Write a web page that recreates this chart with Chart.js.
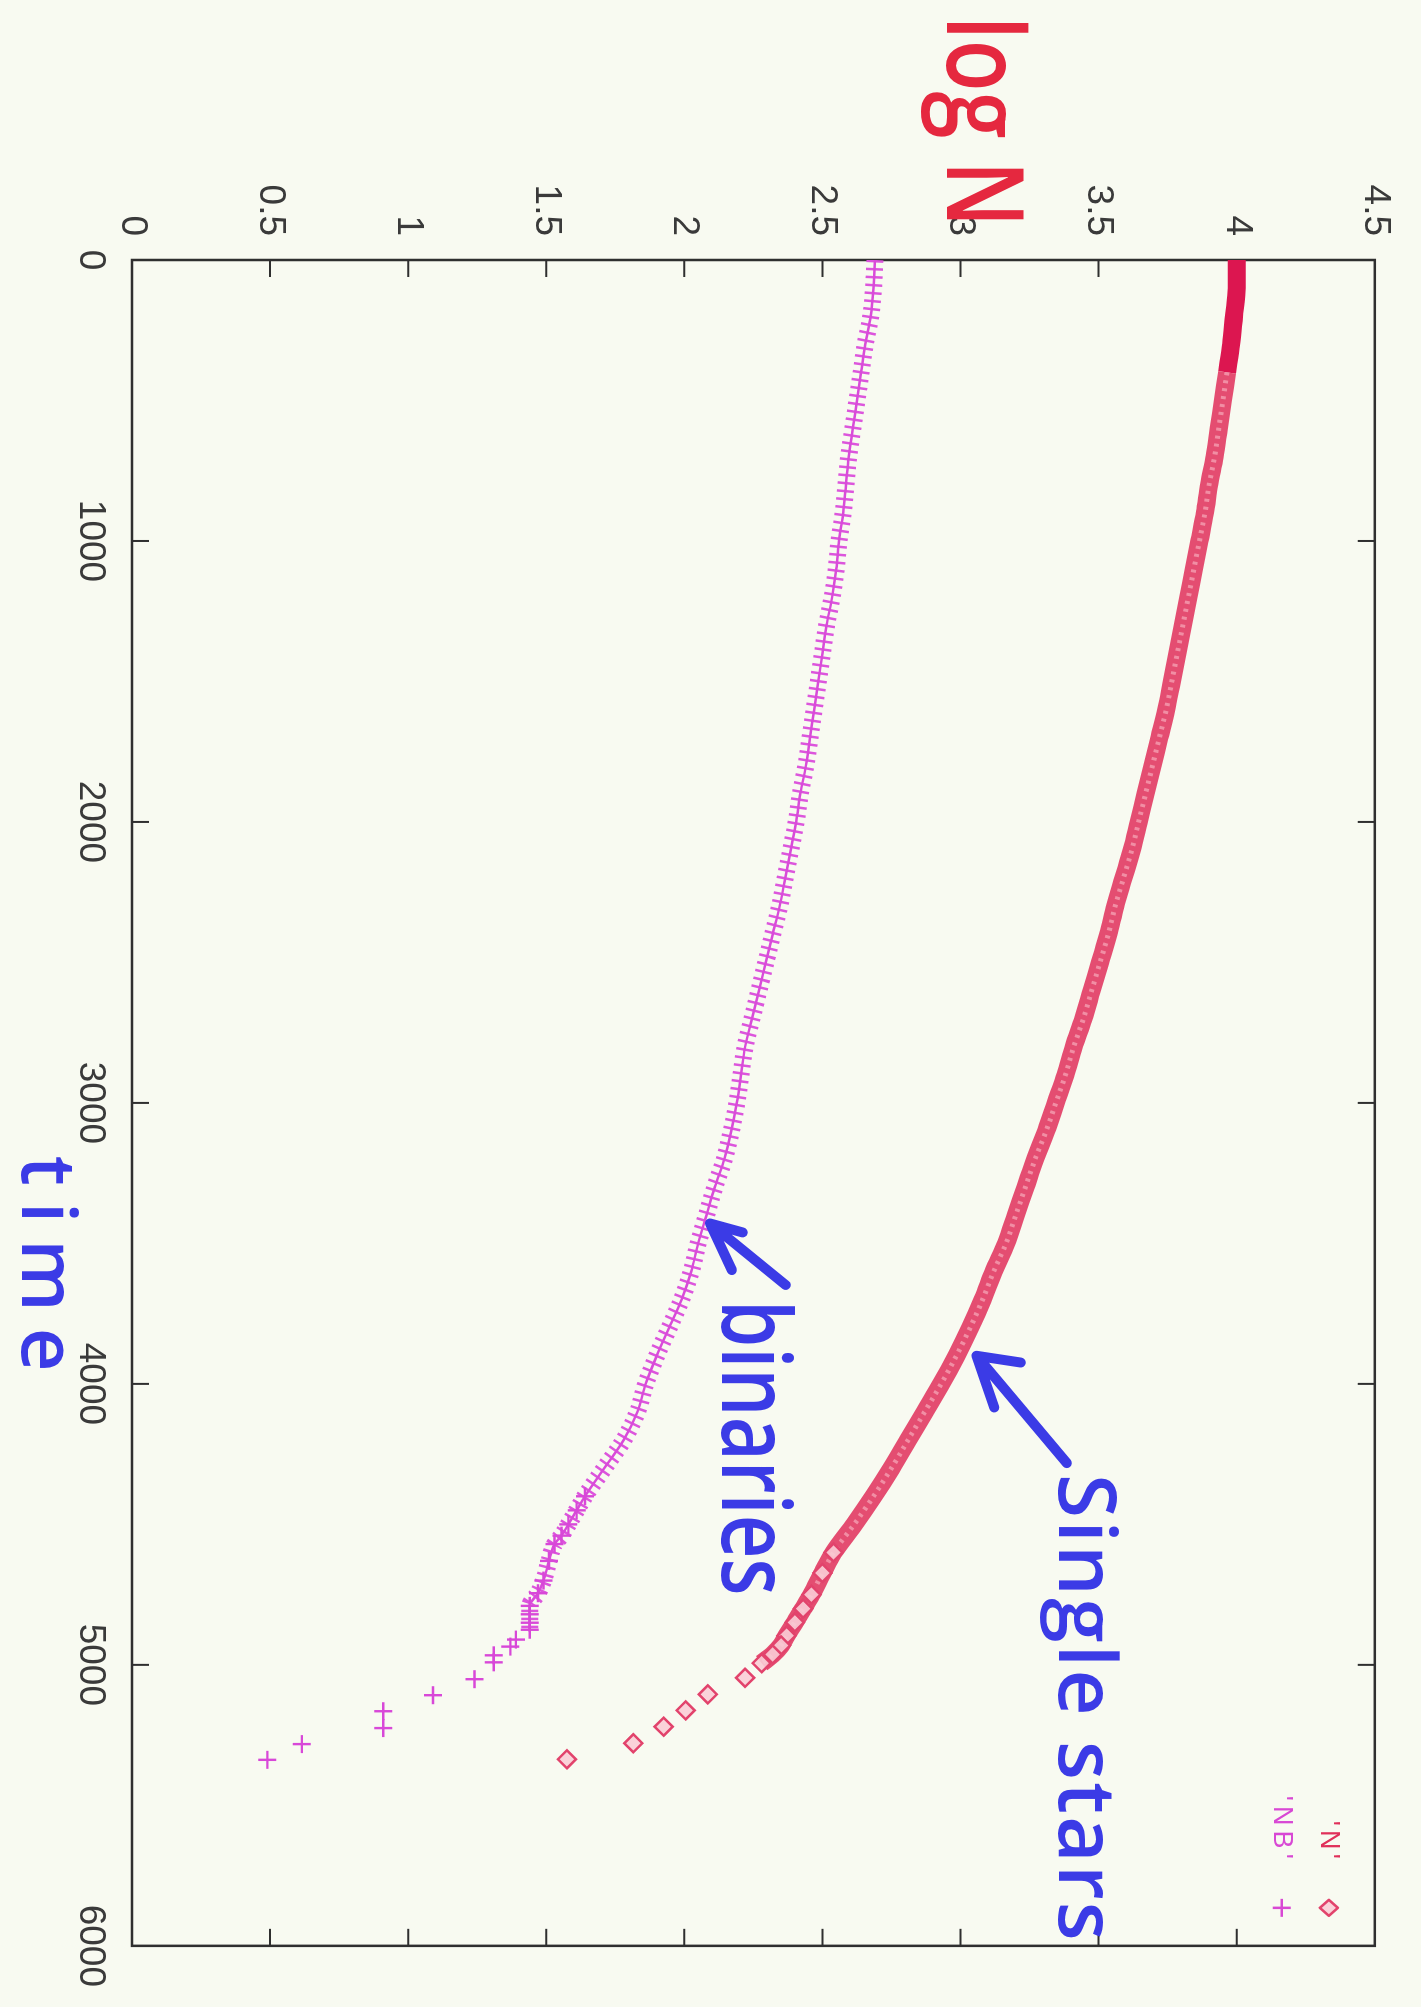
<!DOCTYPE html>
<html lang="en">
<head>
<meta charset="UTF-8">
<title>log N against time</title>
<script src="https://cdn.jsdelivr.net/npm/chart.js"></script>
<style>
  html, body { margin: 0; padding: 0; background: #f8faf1; overflow: hidden; }
  /* the scanned plot is turned a quarter turn clockwise on the page */
  #wrap { position: absolute; left: 0; top: 0; width: 2007px; height: 1421px;
          transform-origin: 0 0; transform: translate(1421px, 0) rotate(90deg); }
</style>
</head>
<body>
<div id="wrap"><canvas id="nChart" width="2007" height="1421"></canvas></div>
<script>
// single stars ('N'): time, log N
var timeN = [0,100,200,300,400,500,600,700,800,900,1000,1100,1200,1300,1400,1500,1600,1700,1800,1900,
             2000,2100,2200,2300,2400,2500,2600,2700,2800,2900,3000,3100,3200,3300,3400,3500,3600,3700,3800,3900,
             4000,4100,4200,4300,4400,4500,4600,4673,4750,4800,4849,4896,4931,4963,4994,
             5046,5105,5162,5220,5279,5336];
var logN = [4.00,4.00,3.99,3.98,3.965,3.95,3.935,3.92,3.90,3.885,3.865,3.845,3.825,3.805,3.785,3.765,3.745,3.72,3.695,3.67,
            3.645,3.62,3.59,3.56,3.535,3.505,3.475,3.445,3.41,3.38,3.345,3.31,3.27,3.235,3.20,3.165,3.12,3.08,3.035,2.985,
            2.93,2.87,2.81,2.75,2.685,2.615,2.54,2.50,2.46,2.43,2.40,2.37,2.35,2.32,2.28,
            2.22,2.085,2.005,1.925,1.815,1.575];

// binaries ('NB'): time, log N
var timeNB = [0,100,200,300,400,500,600,700,800,900,1000,1100,1200,1300,1400,1500,1600,1700,1800,1900,
              2000,2100,2200,2300,2400,2500,2600,2700,2800,2900,3000,3100,3200,3300,3400,3500,3600,3700,3800,3900,
              4000,4100,4200,4300,4400,4450,4500,4540,4570,4630,4700,4745,4790,4820,4850,4875,
              4910,4935,4966,4991,5051,5108,5165,5225,5282,5338];
var logNB = [2.69,2.685,2.675,2.655,2.64,2.625,2.61,2.595,2.585,2.575,2.56,2.55,2.535,2.515,2.50,2.485,2.47,2.455,2.44,2.42,
             2.405,2.385,2.365,2.345,2.32,2.295,2.27,2.245,2.22,2.205,2.19,2.17,2.145,2.11,2.08,2.05,2.025,1.99,1.945,1.90,
             1.86,1.83,1.78,1.71,1.64,1.61,1.58,1.555,1.53,1.51,1.49,1.47,1.44,1.44,1.44,1.44,
             1.39,1.37,1.31,1.31,1.24,1.09,0.91,0.91,0.615,0.49];

var timeTicks = [0,1000,2000,3000,4000,5000,6000];
var logTicks = [0,0.5,1,1.5,2,2.5,3,3.5,4,4.5];

// hand-written notes on the print (placed in data units)
var notes = [
  {text: 'log N',        t0: -868, t1: -117, base: 2.95,  size: 106, color: '#e5283f'},
  {text: 'time',         t0: 3188, t1: 3956, base: -0.40, size: 76,  color: '#3b3be6'},
  {text: 'binaries',     t0: 3701, t1: 4753, base: 2.136, size: 96,  color: '#3b3be6'},
  {text: 'Single stars', t0: 4321, t1: 5982, base: 3.357, size: 80,  color: '#3b3be6'}
];
var arrows = [
  {tip: [3429, 2.093], tail: [3648, 2.367], heads: [[3461, 2.211], [3595, 2.172]]},
  {tip: [3900, 3.058], tail: [4282, 3.385], heads: [[3924, 3.218], [4084, 3.122]]}
];

function pts(ts, ys, from, to) {
  var out = [];
  for (var i = 0; i < ts.length; i++) {
    if (ts[i] >= from && ts[i] <= to) out.push({x: ts[i], y: ys[i]});
  }
  return out;
}

// text stretched or squeezed to the width it has on the paper
function fitText(ctx, text, x, y, width, font) {
  ctx.font = font;
  var w = ctx.measureText(text).width;
  if (w >= width) {
    ctx.save();
    ctx.translate(x, y);
    ctx.scale(width / w, 1);
    ctx.fillText(text, 0, 0);
    ctx.restore();
    return;
  }
  var gap = (width - w) / (text.length - 1), cx = x;
  for (var i = 0; i < text.length; i++) {
    ctx.fillText(text[i], cx, y);
    cx += ctx.measureText(text[i]).width + gap;
  }
}

var framePlugin = {
  id: 'frame',
  beforeDatasetsDraw: function(chart) {
    var a = chart.chartArea, ctx = chart.ctx, xs = chart.scales.x, ys = chart.scales.y;
    ctx.save();
    ctx.strokeStyle = '#2f2f2f';
    ctx.lineWidth = 2.5;
    ctx.strokeRect(a.left, a.top, a.right - a.left, a.bottom - a.top);
    ctx.lineWidth = 2;
    ctx.beginPath();
    timeTicks.slice(1, -1).forEach(function(v) {
      var p = xs.getPixelForValue(v);
      ctx.moveTo(p, a.bottom); ctx.lineTo(p, a.bottom - 17);
      ctx.moveTo(p, a.top); ctx.lineTo(p, a.top + 17);
    });
    logTicks.slice(1, -1).forEach(function(v) {
      var p = ys.getPixelForValue(v);
      ctx.moveTo(a.left, p); ctx.lineTo(a.left + 17, p);
      ctx.moveTo(a.right, p); ctx.lineTo(a.right - 17, p);
    });
    ctx.stroke();
    ctx.restore();
  }
};

var notesPlugin = {
  id: 'notes',
  afterDraw: function(chart) {
    var ctx = chart.ctx, xs = chart.scales.x, ys = chart.scales.y, a = chart.chartArea;
    ctx.save();
    ctx.textBaseline = 'alphabetic';
    notes.forEach(function(n) {
      ctx.fillStyle = n.color;
      var x0 = xs.getPixelForValue(n.t0), x1 = xs.getPixelForValue(n.t1);
      fitText(ctx, n.text, x0, ys.getPixelForValue(n.base), x1 - x0, '600 ' + n.size + 'px "Open Sans"');
    });
    ctx.strokeStyle = '#3b3be6';
    ctx.lineWidth = 10;
    ctx.lineCap = 'round';
    ctx.lineJoin = 'round';
    arrows.forEach(function(ar) {
      var tx = xs.getPixelForValue(ar.tip[0]), ty = ys.getPixelForValue(ar.tip[1]);
      ctx.beginPath();
      ctx.moveTo(xs.getPixelForValue(ar.tail[0]), ys.getPixelForValue(ar.tail[1]));
      ctx.lineTo(tx, ty);
      ar.heads.forEach(function(h) {
        ctx.moveTo(tx, ty);
        ctx.lineTo(xs.getPixelForValue(h[0]), ys.getPixelForValue(h[1]));
      });
      ctx.stroke();
    });

    // gnuplot key, top right inside the frame
    var tx = a.right - 87, sx = a.right - 38, r1 = a.top + 46, r2 = a.top + 93;
    ctx.textBaseline = 'middle';
    ctx.fillStyle = '#e0305a';
    fitText(ctx, "'N'", tx - 38, r1, 38, '27px "Liberation Sans"');
    ctx.fillStyle = '#d848d4';
    fitText(ctx, "'NB'", tx - 63, r2, 63, '27px "Liberation Sans"');
    ctx.lineWidth = 2.5;
    ctx.lineCap = 'butt';
    ctx.strokeStyle = '#e2436c';
    ctx.fillStyle = 'rgba(250,205,214,0.9)';
    ctx.beginPath();
    ctx.moveTo(sx, r1 - 9); ctx.lineTo(sx + 8, r1); ctx.lineTo(sx, r1 + 9); ctx.lineTo(sx - 8, r1); ctx.closePath();
    ctx.fill(); ctx.stroke();
    ctx.strokeStyle = '#d848d4';
    ctx.beginPath();
    ctx.moveTo(sx - 9, r2); ctx.lineTo(sx + 9, r2);
    ctx.moveTo(sx, r2 - 9); ctx.lineTo(sx, r2 + 9);
    ctx.stroke();
    ctx.restore();
  }
};

var tickFont = {family: '"Liberation Sans"', size: 37};

var ctx = document.getElementById('nChart').getContext('2d');
var nChart = new Chart(ctx, {
  type: 'scatter',
  data: {
    datasets: [
      { // thick band of overlapping diamonds
        label: 'N band', data: pts(timeN, logN, 0, 5000), showLine: true,
        borderWidth: 18, pointRadius: 0, tension: 0.3, cubicInterpolationMode: 'monotone',
        borderColor: 'rgba(226,62,102,0.92)', order: 4,
        segment: { borderColor: function(c) { return c.p0.parsed.x < 350 ? '#dc1650' : undefined; } }
      },
      { // lighter centres of the diamonds
        label: 'N texture', data: pts(timeN, logN, 400, 5000), showLine: true,
        borderWidth: 5, borderDash: [3, 5], pointRadius: 0, tension: 0.3, cubicInterpolationMode: 'monotone',
        borderColor: 'rgba(252,196,206,0.55)', order: 3
      },
      { // separate diamonds at the end
        label: "'N'", data: pts(timeN, logN, 4600, 6000), showLine: false,
        pointStyle: 'rectRot', pointRadius: 9, borderWidth: 2.5,
        borderColor: '#e2436c', backgroundColor: 'rgba(250,205,214,0.9)', order: 2
      },
      { // spine of the '+' ladder
        label: 'NB spine', data: pts(timeNB, logNB, 0, 4875), showLine: true,
        borderWidth: 2.5, pointRadius: 0, tension: 0.3, cubicInterpolationMode: 'monotone',
        borderColor: '#d94bd9', order: 1
      },
      { // rungs of the '+' ladder
        label: 'NB rungs', data: pts(timeNB, logNB, 0, 4875), showLine: true,
        borderWidth: 17, borderDash: [2.5, 5.5], pointRadius: 0, tension: 0.3, cubicInterpolationMode: 'monotone',
        borderColor: '#dc55dc', order: 1
      },
      {
        label: "'NB'", data: pts(timeNB, logNB, 4400, 6000), showLine: false,
        pointStyle: 'cross', pointRadius: 9, borderWidth: 2.4,
        borderColor: '#d848d8', backgroundColor: '#d848d8', order: 0
      }
    ]
  },
  options: {
    responsive: false,
    animation: false,
    layout: { padding: { left: 0, top: 27, right: 53, bottom: 0 } },
    plugins: { legend: { display: false }, tooltip: { enabled: false } },
    scales: {
      x: {
        type: 'linear', min: 0, max: 6000,
        afterBuildTicks: function(s) { s.ticks = timeTicks.map(function(v) { return {value: v}; }); },
        afterFit: function(s) { s.height = 132; },
        grid: { display: false, drawTicks: false },
        border: { display: false },
        ticks: { font: tickFont, color: '#3a3a3a', padding: 20, maxRotation: 0, autoSkip: false,
                 callback: function(v) { return String(v); } }
      },
      y: {
        type: 'linear', min: 0, max: 4.5,
        afterBuildTicks: function(s) { s.ticks = logTicks.map(function(v) { return {value: v}; }); },
        afterFit: function(s) { s.width = 260; },
        grid: { display: false, drawTicks: false },
        border: { display: false },
        ticks: { font: tickFont, color: '#3a3a3a', padding: 24, autoSkip: false,
                 callback: function(v) { return String(v); } }
      }
    }
  },
  plugins: [framePlugin, notesPlugin]
});
</script>
</body>
</html>
